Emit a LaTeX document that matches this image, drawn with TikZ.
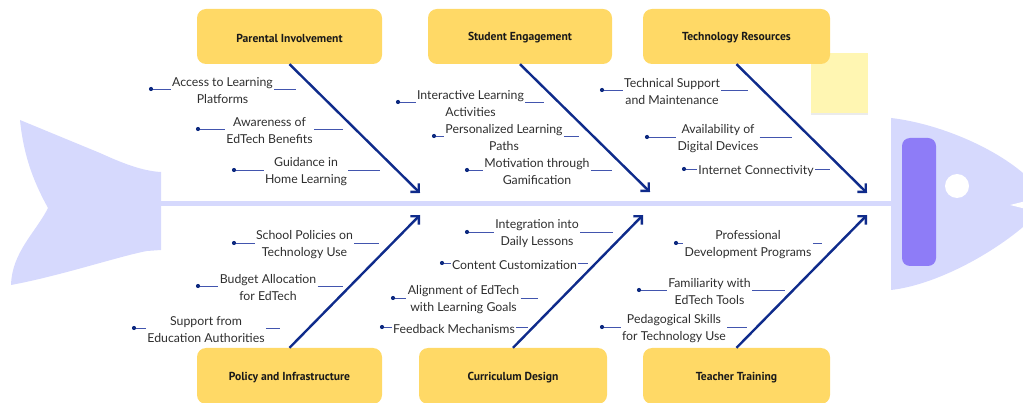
\documentclass[tikz,border=0pt]{standalone}
\usepackage{fontspec}
\setmainfont{Lato}
\newfontfamily\titlefont{PT Sans}
\usetikzlibrary{arrows.meta}

\definecolor{fishbody}{HTML}{D6D9FD}
\definecolor{fisheye}{HTML}{8E7CF7}
\definecolor{boxfill}{HTML}{FFD966}
\definecolor{stickyfill}{HTML}{FFF6B2}
\definecolor{bonecol}{HTML}{0F2B8B}
\definecolor{twigcol}{HTML}{4255AE}
\definecolor{dotcol}{HTML}{0E2A80}
\definecolor{labelcol}{HTML}{2E2E2E}

\tikzset{
  catbox/.style={fill=boxfill, rounded corners=9pt, minimum width=185pt,
    minimum height=55pt, inner sep=0pt},
  cattitle/.style={inner sep=0pt, text=black!90,
    font=\titlefont\bfseries\fontsize{11.6pt}{14pt}\selectfont},
  bone/.style={draw=bonecol, line width=2.4pt,
    -{Straight Barb[length=6pt,width=12pt,line width=2.4pt]}},
  itemtext/.style={align=center, inner xsep=1.2pt, inner ysep=0pt, text=labelcol,
    font=\fontsize{12.3pt}{17pt}\selectfont},
  twig/.style={draw=twigcol, line width=0.9pt},
  twigdot/.style={fill=dotcol},
}

% one cause: name, text centre x, y, dot x, right end x, text
\newcommand\fishcause[6]{%
  \coordinate (#1-dot) at (#4,#3);
  \coordinate (#1-end) at (#5,#3);
  \node[itemtext] (#1) at (#2,#3+1.8) {#6};
  \draw[twig] (#1-dot) -- (#1.west |- #1-dot);
  \draw[twig] (#1.east |- #1-end) -- (#1-end);
  \fill[twigdot] (#1-dot) circle (2.1pt);
}

\begin{document}
\begin{tikzpicture}[x=1pt,y=-1pt]
\useasboundingbox (0,0) rectangle (1023,403);
\clip (0,0) rectangle (1023,403);

% tail
\fill[fishbody] (20,120) .. controls (24,160) and (36,186) .. (48,208)
  .. controls (36,232) and (12,252) .. (11,285)
  .. controls (60,276) and (120,256) .. (147,251) -- (161,250) -- (161,172)
  .. controls (142,171) and (122,163) .. (100,153) -- cycle;

% spine
\fill[fishbody] (160,201) rectangle (892,206);

% head
\fill[fishbody] (891,118) .. controls (935,123) and (990,145) .. (1023,173)
  -- (1045,205) -- (1023,227)
  .. controls (990,255) and (935,285) .. (891,290) -- cycle;
\fill[white] (1010,205) -- (1026,201) -- (1026,209) -- cycle;
\fill[fisheye, rounded corners=8pt] (902,138) rectangle (936,266);
\fill[white] (957,186) circle (12);

% sticky note
\fill[black!8] (811,55) rectangle (868,115);
\fill[stickyfill] (811,53) rectangle (868,113);

% category boxes
\node[catbox] (parent) at (289.5,36.5) {};
\node[catbox, minimum width=184pt] (student) at (520,36.5) {};
\node[catbox, minimum width=187pt] (tech) at (736.5,36.5) {};
\node[catbox, minimum height=56pt] (policy) at (289.5,376) {};
\node[catbox, minimum width=188pt, minimum height=56pt] (curric) at (513,376) {};
\node[catbox, minimum width=187pt, minimum height=56pt] (teacher) at (736.5,376) {};
\node[cattitle] (parent-t) at (289.5,38) {Parental Involvement};
\node[cattitle] (student-t) at (520,38) {Student Engagement};
\node[cattitle] (tech-t) at (736.5,38) {Technology Resources};
\node[cattitle] (policy-t) at (289.5,377.5) {Policy and Infrastructure};
\node[cattitle] (curric-t) at (513,377.5) {Curriculum Design};
\node[cattitle] (teacher-t) at (736.5,377.5) {Teacher Training};

% bones
\coordinate (parent-tip) at (420,193);
\coordinate (student-tip) at (650,192);
\coordinate (tech-tip) at (867,193);
\coordinate (policy-tip) at (420,215);
\coordinate (curric-tip) at (643,215);
\coordinate (teacher-tip) at (867,215);
\draw[bone] (parent.south) -- (parent-tip);
\draw[bone] (student.south) -- (student-tip);
\draw[bone] (tech.south) -- (tech-tip);
\draw[bone] (policy.north) -- (policy-tip);
\draw[bone] (curric.north) -- (curric-tip);
\draw[bone] (teacher.north) -- (teacher-tip);

% causes: parental involvement
\fishcause{pa}{222.5}{89}{151}{296}{Access to Learning\\Platforms}
\fishcause{pb}{269.5}{129}{198}{343}{Awareness of\\EdTech Benefits}
\fishcause{pc}{306}{170}{234}{380}{Guidance in\\Home Learning}
% student engagement
\fishcause{sa}{470.5}{102}{398}{544}{Interactive Learning\\Activities}
\fishcause{sb}{504}{136}{434}{579}{Personalized Learning\\Paths}
\fishcause{sc}{537}{170}{467}{612}{Motivation through\\Gamification}
% technology resources
\fishcause{ta}{672}{90}{602}{748}{Technical Support\\and Maintenance}
\fishcause{tb}{718}{137}{647}{792}{Availability of\\Digital Devices}
\fishcause{tc}{756}{169}{684}{830}{Internet Connectivity}
% policy and infrastructure
\fishcause{oa}{304.5}{243}{234}{379}{School Policies on\\Technology Use}
\fishcause{ob}{268}{286}{198}{343}{Budget Allocation\\for EdTech}
\fishcause{oc}{206}{328}{134}{280}{Support from\\Education Authorities}
% curriculum design
\fishcause{ca}{537}{232}{467}{613}{Integration into\\Daily Lessons}
\fishcause{cb}{514.5}{263}{442}{588}{Content Customization}
\fishcause{cc}{463.5}{298}{393}{538}{Alignment of EdTech\\with Learning Goals}
\fishcause{cd}{454}{327}{382}{528}{Feedback Mechanisms}
% teacher training
\fishcause{ea}{748}{243}{676}{822}{Professional\\Development Programs}
\fishcause{eb}{709.5}{290}{639}{785}{Familiarity with\\EdTech Tools}
\fishcause{ec}{674}{327}{602}{747}{Pedagogical Skills\\for Technology Use}
\end{tikzpicture}
\end{document}
